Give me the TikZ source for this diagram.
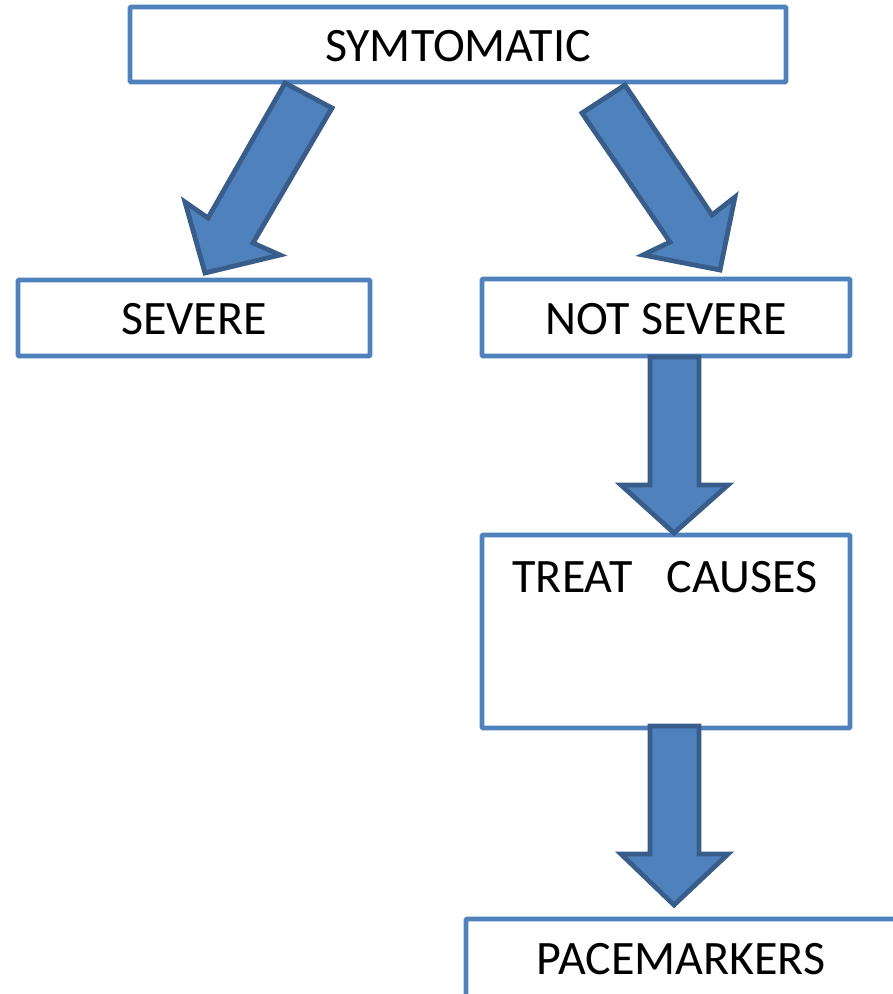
\documentclass[tikz,border=0pt]{standalone}
\usepackage{fontspec}
\setmainfont{Carlito}
\definecolor{boxblue}{HTML}{4F81BD}
\definecolor{arrowedge}{HTML}{385D8A}
\begin{document}
\begin{tikzpicture}[x=1pt,y=-1pt,
  boxstyle/.style={draw=boxblue,line width=4.8pt,fill=white,rounded corners=1pt},
  labelstyle/.style={font=\fontsize{48}{54}\selectfont,inner sep=0pt,anchor=base},
  blockarrow/.style={draw=arrowedge,fill=boxblue,line width=4.8pt,line join=miter}]
\clip (0,0) rectangle (893,994);
\useasboundingbox (0,0) rectangle (893,994);
% boxes
\draw[boxstyle] (130,7) rectangle (786,82);
\draw[boxstyle] (18,280) rectangle (370,356);
\draw[boxstyle] (482,279) rectangle (850,356);
\draw[boxstyle] (482,535) rectangle (850,728);
\draw[boxstyle] (466,919) rectangle (900,1010);
% labels
\node[labelstyle] (sym) at (458,61) {SYMTOMATIC};
\node[labelstyle] (sev) at (194,334) {SEVERE};
\node[labelstyle] (nsev) at (666,334) {NOT SEVERE};
\node[labelstyle] (treat) at (665,592) {TREAT\hspace{0.72em}CAUSES};
\node[labelstyle] (pace) at (681,974) {PACEMARKERS};
% block arrows
\draw[blockarrow] (285,83) -- (332,108) -- (253,243) -- (280,255) -- (205,273) -- (185,202) -- (208,218) -- cycle;
\draw[blockarrow] (625,85) -- (582,113) -- (670,242) -- (643,255) -- (720,270) -- (735,197) -- (712,215) -- cycle;
\draw[blockarrow] (650,357) -- (699,357) -- (699,485) -- (728,485) -- (674,533) -- (621,485) -- (650,485) -- cycle;
\draw[blockarrow] (650,726) -- (699,726) -- (699,854) -- (728,854) -- (674,905) -- (621,854) -- (650,854) -- cycle;
\end{tikzpicture}
\end{document}
